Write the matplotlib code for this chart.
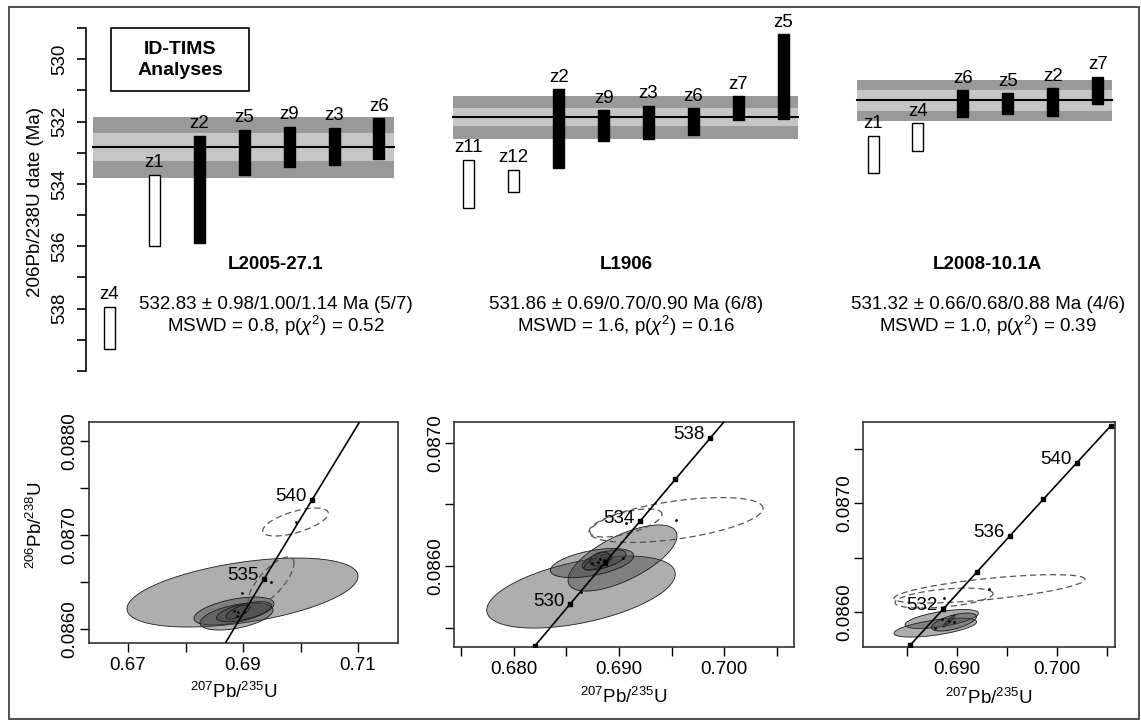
import numpy as np
import matplotlib.pyplot as plt
from matplotlib.patches import Rectangle

plt.rcParams['font.family'] = ['Liberation Sans', 'DejaVu Sans']
plt.rcParams['mathtext.fontset'] = 'custom'
plt.rcParams['mathtext.rm'] = 'Liberation Sans'
plt.rcParams['mathtext.it'] = 'Liberation Sans:italic'
plt.rcParams['mathtext.bf'] = 'Liberation Sans:bold'
plt.rcParams['font.size'] = 13.5

W, H = 1141, 721

# ---------------- weighted mean dates (top panel) ----------------
samples = ['L2005-27.1', 'L1906', 'L2008-10.1A']
grains = [['z4', 'z1', 'z2', 'z5', 'z9', 'z3', 'z6'],
          ['z11', 'z12', 'z2', 'z9', 'z3', 'z6', 'z7', 'z5'],
          ['z1', 'z4', 'z6', 'z5', 'z2', 'z7']]
dates = [[538.61, 534.84, 534.18, 532.99, 532.82, 532.79, 532.55],
         [534.00, 533.91, 532.23, 532.13, 532.03, 532.00, 531.57, 530.56],
         [533.06, 532.50, 531.43, 531.43, 531.38, 531.01]]
errs = [[0.67, 1.14, 1.72, 0.72, 0.65, 0.59, 0.66],
        [0.77, 0.36, 1.27, 0.50, 0.53, 0.43, 0.39, 1.36],
        [0.60, 0.45, 0.44, 0.34, 0.45, 0.44]]
used = [[0, 0, 1, 1, 1, 1, 1],
        [0, 0, 1, 1, 1, 1, 1, 1],
        [0, 0, 1, 1, 1, 1]]
means = [532.83, 531.86, 531.32]
mean_err = [0.98, 0.69, 0.66]
mean_err_inner = [0.45, 0.29, 0.33]
age_text = ['532.83 \u00b1 0.98/1.00/1.14 Ma (5/7)',
            '531.86 \u00b1 0.69/0.70/0.90 Ma (6/8)',
            '531.32 \u00b1 0.66/0.68/0.88 Ma (4/6)']
mswd_text = [r'MSWD = 0.8, p($\chi^2$) = 0.52',
             r'MSWD = 1.6, p($\chi^2$) = 0.16',
             r'MSWD = 1.0, p($\chi^2$) = 0.39']

# ---------------- concordia (bottom panels) ----------------
conc_age = [526, 528, 530, 532, 534, 535, 536, 538, 540, 542, 544, 546]
conc_x = [0.678719, 0.682028, 0.685345, 0.688668, 0.691998, 0.693665,
          0.695334, 0.698676, 0.702026, 0.705381, 0.708744, 0.712113]
conc_y = [0.085017, 0.085354, 0.085691, 0.086027, 0.086364, 0.086533,
          0.086702, 0.087039, 0.087376, 0.087712, 0.088049, 0.088389]

# ellipses: 207/235, half-width, 206/238, half-height, rho, used
ell1 = [(0.68991, 0.02009, 0.086388, 0.000367, 0.47, 1),
        (0.68843, 0.00696, 0.086191, 0.000149, 0.52, 1),
        (0.68887, 0.00635, 0.086133, 0.000144, 0.48, 1),
        (0.69017, 0.00478, 0.086184, 0.000106, 0.60, 1),
        (0.68913, 0.00210, 0.086181, 0.000075, 0.70, 1),
        (0.69487, 0.00400, 0.086500, 0.000266, 0.75, 0),
        (0.69913, 0.00570, 0.087138, 0.000149, 0.62, 0)]
ell2 = [(0.68639, 0.00895, 0.085789, 0.000292, 0.50, 1),
        (0.69033, 0.00517, 0.086065, 0.000268, 0.67, 1),
        (0.68744, 0.00396, 0.086024, 0.000118, 0.50, 1),
        (0.68858, 0.00209, 0.086049, 0.000081, 0.60, 1),
        (0.68801, 0.00133, 0.086032, 0.000065, 0.70, 1),
        (0.68820, 0.00095, 0.086057, 0.000057, 0.30, 1),
        (0.69541, 0.00826, 0.086373, 0.000182, 0.52, 0),
        (0.69066, 0.00342, 0.086349, 0.000114, 0.62, 0)]
ell3 = [(0.68850, 0.00367, 0.085933, 0.0000876, 0.60, 1),
        (0.68786, 0.00413, 0.085854, 0.0000876, 0.60, 1),
        (0.68973, 0.00225, 0.085905, 0.000083, 0.60, 1),
        (0.68923, 0.00060, 0.085914, 0.000055, 0.95, 1),
        (0.69328, 0.00955, 0.086211, 0.000131, 0.67, 0),
        (0.68873, 0.00490, 0.086126, 0.000092, 0.45, 0)]

xticks = [[0.67, 0.68, 0.69, 0.70, 0.71],
          [0.675, 0.680, 0.685, 0.690, 0.695, 0.700, 0.705],
          [0.685, 0.690, 0.695, 0.700, 0.705]]
xtick_lab = [['0.67', '', '0.69', '', '0.71'],
             ['', '0.680', '', '0.690', '', '0.700', ''],
             ['', '0.690', '', '0.700', '']]
yticks = [[0.0860, 0.0865, 0.0870, 0.0875, 0.0880],
          [0.0855, 0.0860, 0.0865, 0.0870],
          [0.0860, 0.0865, 0.0870, 0.0875]]
ytick_lab = [['0.0860', '', '0.0870', '', '0.0880'],
             ['', '0.0860', '', '0.0870'],
             ['0.0860', '', '0.0870', '']]
line_ages = [(526, 546), (528, 540), (530, 542)]
mark_ages = [[535, 540], [528, 530, 532, 534, 536, 538],
             [530, 532, 534, 536, 538, 540, 542]]
label_ages = [[535, 540], [530, 534, 538], [532, 536, 540]]


def fbox(l, t, r, b):
    return [l / W, 1 - b / H, (r - l) / W, (b - t) / H]


def ell_xy(x, sx, y, sy, r, n=160):
    t = np.linspace(0, 2 * np.pi, n)
    return x + sx * np.cos(t), y + sy * (r * np.cos(t) + np.sqrt(1 - r * r) * np.sin(t))


fig = plt.figure(figsize=(W / 100, H / 100), dpi=100)

# ---------------- top panel ----------------
ax0 = fig.add_axes(fbox(86, 28, 1130, 371))
ax0.set_xlim(-0.523, 22.72)
ax0.set_ylim(540, 529)
for s in ['top', 'right', 'bottom']:
    ax0.spines[s].set_visible(False)
ax0.spines['left'].set_linewidth(1.2)
ax0.set_xticks([])
yt = np.arange(529, 541)
ax0.set_yticks(yt)
ax0.set_yticklabels([str(v) if v % 2 == 0 and v < 540 else '' for v in yt])
ax0.tick_params(axis='y', length=6.5, width=1.2, pad=6, labelrotation=90)
for t in ax0.get_yticklabels():
    t.set_va('center')

label_x = [3.7, 11.5, 19.55]
start = 0
for g in range(3):
    n = len(grains[g])
    pos = start + np.arange(n)
    x0, x1 = pos[0] - 0.36, pos[-1] + 0.33
    m = means[g]
    ax0.fill_between([x0, x1], m - mean_err[g], m + mean_err[g], color='#999999', lw=0, zorder=1)
    ax0.fill_between([x0, x1], m - mean_err_inner[g], m + mean_err_inner[g], color='#c6c6c6', lw=0, zorder=1)
    ax0.plot([x0, x1], [m, m], color='k', lw=1.5, zorder=2)
    d = np.array(dates[g])
    e = np.array(errs[g])
    cols = ['k' if u else 'white' for u in used[g]]
    ax0.bar(pos, 2 * e, bottom=d - e, width=0.245, color=cols, edgecolor='k', linewidth=1, zorder=3)
    for p, dd, ee, nm in zip(pos, d, e, grains[g]):
        ax0.annotate(nm, (p, dd - ee), xytext=(0, 2.5), textcoords='offset points',
                     ha='center', va='bottom')
    ax0.text(label_x[g], 536.74, samples[g], ha='center', va='baseline', fontweight='bold')
    ax0.text(label_x[g], 538.0, age_text[g], ha='center', va='baseline')
    ax0.text(label_x[g], 538.74, mswd_text[g], ha='center', va='baseline')
    start += n + 1

fig.text(36 / W, 1 - 202 / H, '206Pb/238U date (Ma)', rotation=90, ha='center', va='center')

fig.add_artist(Rectangle((111 / W, 1 - 91 / H), 138 / W, 63 / H, fill=False, ec='k',
                         lw=1.2, transform=fig.transFigure))
fig.text(180 / W, 1 - 60 / H, 'ID-TIMS\nAnalyses', ha='center', va='center',
         fontweight='bold', fontsize=14, linespacing=1.3)

# ---------------- concordia panels ----------------
boxes = [fbox(89, 421.7, 398, 643), fbox(454.3, 421.7, 794, 646.7), fbox(863.3, 421.7, 1115, 647.3)]
xlims = [(0.66322, 0.71695), (0.67436, 0.70661), (0.68066, 0.70583)]
ylims = [(0.085851, 0.088205), (0.085346, 0.087170), (0.085672, 0.087753)]
xlab_x = [0.469, 0.5, 0.5]
ells = [ell1, ell2, ell3]
ca = np.array(conc_age)
cx = np.array(conc_x)
cy = np.array(conc_y)

for i in range(3):
    ax = fig.add_axes(boxes[i])
    ax.set_xlim(*xlims[i])
    ax.set_ylim(*ylims[i])
    for e in ells[i]:
        x, sx, y, sy, r, ok = e
        ex, ey = ell_xy(x, sx, y, sy, r)
        if ok:
            ax.fill(ex, ey, facecolor=(0.25, 0.25, 0.25, 0.42), edgecolor='#1a1a1a', lw=0.6, zorder=2)
        else:
            ax.plot(ex, ey, color='#555555', lw=0.9, ls=(0, (5, 3)), zorder=3)
        ax.plot(x, y, 'k.', ms=2, zorder=5)
    a0, a1 = line_ages[i]
    sel = (ca >= a0) & (ca <= a1)
    ax.plot(cx[sel], cy[sel], color='k', lw=1.2, zorder=4)
    mk = np.isin(ca, mark_ages[i])
    ax.plot(cx[mk], cy[mk], 's', color='k', ms=3.2, zorder=4)
    for a in label_ages[i]:
        j = conc_age.index(a)
        ax.annotate(str(a), (conc_x[j], conc_y[j]), xytext=(-4, -1), textcoords='offset points',
                    ha='right', va='baseline', zorder=6)
    ax.set_xticks(xticks[i])
    ax.set_xticklabels(xtick_lab[i])
    ax.set_yticks(yticks[i])
    ax.set_yticklabels(ytick_lab[i])
    ax.tick_params(length=6.5, width=1.0, pad=3.5)
    ax.tick_params(axis='y', labelrotation=90, pad=1)
    for t in ax.get_yticklabels():
        t.set_va('center')
    for s in ax.spines.values():
        s.set_linewidth(1.2)
        s.set_color('#333333')
    ax.set_xlabel(r'$^{207}$Pb/$^{235}$U')
    ax.xaxis.set_label_coords(xlab_x[i], -0.178)

fig.text(36 / W, 1 - 525 / H, r'$^{206}$Pb/$^{238}$U', rotation=90, ha='center', va='center')

fig.add_artist(Rectangle((9 / W, 2 / H), 1130 / W, 712 / H, fill=False, ec='#333333',
                         lw=1.2, transform=fig.transFigure))

fig.savefig('out.png', dpi=100)
